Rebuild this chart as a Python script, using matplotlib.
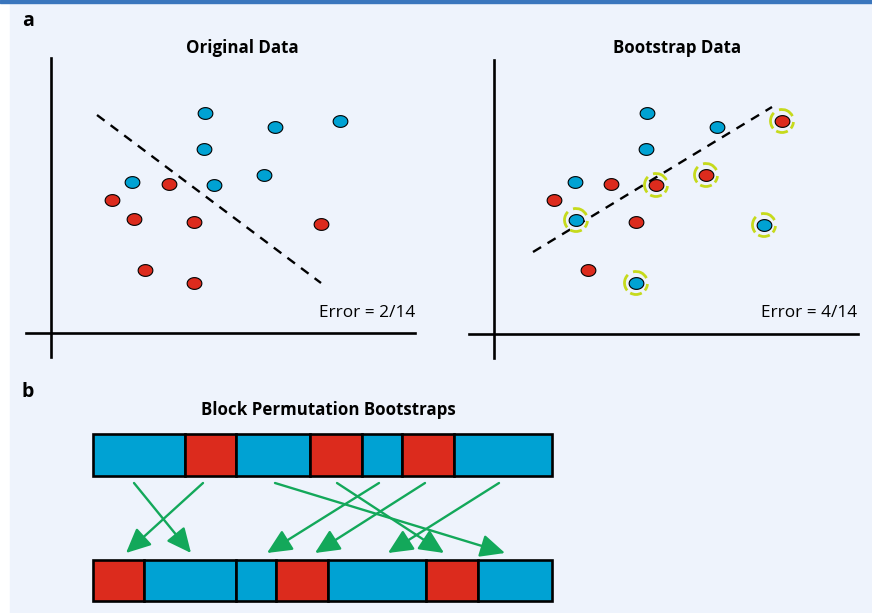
import matplotlib.pyplot as plt
import matplotlib.patches as mpatches
from matplotlib.path import Path
import numpy as np

plt.rcParams['font.family'] = ['Open Sans', 'DejaVu Sans']

# original data (units measured from the axis crossing)
orig_blue_x = [154, 224, 289, 153, 213, 81, 163]
orig_blue_y = [220, 206, 212, 184, 158, 151, 148]
orig_red_x = [118, 61, 83, 143, 270, 94, 143]
orig_red_y = [149, 133, 114, 111, 109, 63, 50]
orig_split_x = [46, 270]
orig_split_y = [218, 50]
orig_error = 'Error = 2/14'

# bootstrap resample
boot_blue_x = [153, 223, 152, 81, 82, 270, 142]
boot_blue_y = [221, 207, 185, 152, 114, 109, 51]
boot_blue_miss = [False, False, False, False, True, True, True]
boot_red_x = [60, 117, 162, 212, 288, 142, 94]
boot_red_y = [134, 150, 149, 159, 213, 112, 64]
boot_red_miss = [False, False, True, True, True, False, False]
boot_split_x = [39, 278]
boot_split_y = [82, 227]
boot_error = 'Error = 4/14'

# block permutation
block_widths = [92, 51, 74, 52, 40, 52, 98]
block_kinds = ['b', 'r', 'b', 'r', 'b', 'r', 'b']
block_order = [1, 0, 4, 3, 6, 5, 2]
arrow_from_x = [134, 203, 275, 337, 379, 425, 499]
arrow_to_x = [191, 126, 505, 444, 267, 315, 388]

BLUE = '#00a2d3'
RED = '#dc2b1d'
RING = '#c6da1c'
GREEN = '#13a85a'
BG = '#eef3fc'

W, H = 872, 613
fig = plt.figure(figsize=(W / 100, H / 100), dpi=100)
fig.patch.set_facecolor('white')

base = fig.add_axes([0, 0, 1, 1])
base.set_xlim(0, W)
base.set_ylim(H, 0)
base.axis('off')
base.add_patch(mpatches.Rectangle((10, 0), W - 10, H, color=BG, zorder=0))
base.add_patch(mpatches.Rectangle((0, 0), W, 2.5, color='#3a76bd', zorder=1))


def panel(x0, y0, x1, y1, ox, oy):
    # axes box given in pixels, data origin at the axis crossing (ox, oy)
    ax = fig.add_axes([x0 / W, 1 - y1 / H, (x1 - x0) / W, (y1 - y0) / H])
    ax.set_xlim(x0 - ox, x1 - ox)
    ax.set_ylim(oy - y1, oy - y0)
    ax.patch.set_alpha(0)
    for s in ['top', 'right']:
        ax.spines[s].set_visible(False)
    for s in ['left', 'bottom']:
        ax.spines[s].set_position(('data', 0))
        ax.spines[s].set_linewidth(1.9)
    ax.set_xticks([])
    ax.set_yticks([])
    return ax


# slightly squashed circle for the points
t = np.linspace(0, 2 * np.pi, 60)
oval = Path(np.column_stack([np.cos(t), 0.8 * np.sin(t)]), closed=True)


def dots(ax, x, y, color):
    ax.scatter(x, y, s=112, marker=oval, c=color, edgecolors='black',
               linewidths=0.8, zorder=4)


def rings(ax, x, y, miss):
    for xi, yi, m in zip(x, y, miss):
        if not m:
            continue
        for a0, a1 in [(25, 105), (135, 220), (240, 300), (320, 355)]:
            ax.add_patch(mpatches.Arc((xi, yi), 23, 23, theta1=a0, theta2=a1,
                                      color=RING, lw=2.0, zorder=3))


ax1 = panel(26, 58, 415, 357, 51, 333)
ax1.plot(orig_split_x, orig_split_y, color='black', lw=1.7,
         linestyle=(0, (4, 3.2)), zorder=2)
dots(ax1, orig_blue_x, orig_blue_y, BLUE)
dots(ax1, orig_red_x, orig_red_y, RED)

ax2 = panel(469, 60, 858, 358, 494, 334)
ax2.plot(boot_split_x, boot_split_y, color='black', lw=1.7,
         linestyle=(0, (4, 3.2)), zorder=2)
rings(ax2, boot_blue_x, boot_blue_y, boot_blue_miss)
rings(ax2, boot_red_x, boot_red_y, boot_red_miss)
dots(ax2, boot_blue_x, boot_blue_y, BLUE)
dots(ax2, boot_red_x, boot_red_y, RED)

base.text(415, 313, orig_error, ha='right', va='center', fontsize=12.4)
base.text(857, 313, boot_error, ha='right', va='center', fontsize=12.4)

base.text(28, 21, 'a', fontsize=14, fontweight='bold', ha='center', va='center')
base.text(28, 392, 'b', fontsize=14, fontweight='bold', ha='center', va='center')
base.text(242, 48, 'Original Data', fontsize=12.2, fontweight='bold',
          ha='center', va='center')
base.text(677, 48, 'Bootstrap Data', fontsize=12.2, fontweight='bold',
          ha='center', va='center')
base.text(328, 410, 'Block Permutation Bootstraps', fontsize=12.2,
          fontweight='bold', ha='center', va='center')

# top strip (original order) and bottom strip (permuted order)
colors = {'b': BLUE, 'r': RED}
x_start = 93
top_left = x_start + np.concatenate([[0], np.cumsum(block_widths)[:-1]])
base.barh(455, block_widths, left=top_left, height=42,
          color=[colors[k] for k in block_kinds], edgecolor='black',
          linewidth=1.9, zorder=3)

perm_w = [block_widths[i] for i in block_order]
perm_k = [block_kinds[i] for i in block_order]
bot_left = x_start + np.concatenate([[0], np.cumsum(perm_w)[:-1]])
base.barh(580, perm_w, left=bot_left, height=41,
          color=[colors[k] for k in perm_k], edgecolor='black',
          linewidth=1.9, zorder=3)

for xa, xb in zip(arrow_from_x, arrow_to_x):
    base.annotate('', xy=(xb, 553), xytext=(xa, 483),
                  arrowprops=dict(arrowstyle='-|>,head_length=0.75,head_width=0.35',
                                  color=GREEN, lw=1.7, mutation_scale=20,
                                  shrinkA=0, shrinkB=0), zorder=2)

fig.savefig('out.png', dpi=100, facecolor=fig.get_facecolor())
